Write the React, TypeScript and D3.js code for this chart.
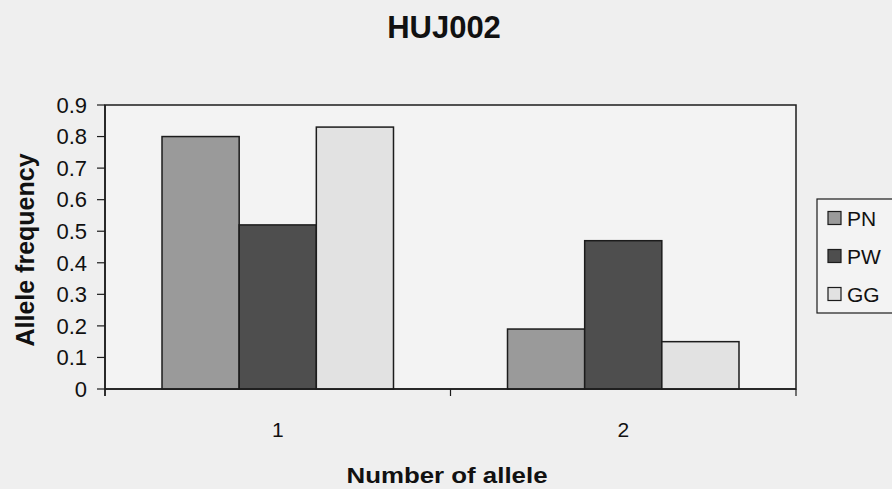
import React from "react";
import * as d3 from "d3";

const categories = ["1", "2"];
const seriesNames = ["PN", "PW", "GG"];
const PN = [0.8, 0.19];
const PW = [0.52, 0.47];
const GG = [0.83, 0.15];
const yTicks = [0, 0.1, 0.2, 0.3, 0.4, 0.5, 0.6, 0.7, 0.8, 0.9];
const seriesValues = [PN, PW, GG];
const colors = ["#9a9a9a", "#4e4e4e", "#e2e2e2"];

const W = 892, H = 489;
const L = 105, R = 796, T = 105, B = 389;
const font = "Arial, 'Liberation Sans', Helvetica, sans-serif";

export default function App() {
  const x0 = d3.scaleBand<string>().domain(categories).range([L, R]).paddingInner(0.33).paddingOuter(0.165);
  const x1 = d3.scaleBand<string>().domain(seriesNames).range([0, x0.bandwidth()]);
  const y = d3.scaleLinear().domain([0, 0.9]).range([B, T]);
  const fmt = (v: number) => (v === 0 ? "0" : d3.format(".1f")(v));
  const stroke = "#1c1c1c";
  return (
    <svg width={W} height={H} style={{ position: "absolute", left: 0, top: 0 }} fontFamily={font}>
      <rect x={0} y={0} width={W} height={H} fill="#efefef" />
      <text x={444} y={38} textAnchor="middle" fontSize={31} fontWeight="bold" fill="#111">HUJ002</text>
      <rect x={L} y={T} width={R - L} height={B - T} fill="#f3f3f3" stroke={stroke} strokeWidth={1.5} />
      {seriesValues.map((vals, si) =>
        categories.map((c, ci) => (
          <rect key={si + "-" + ci}
            x={(x0(c) as number) + (x1(seriesNames[si]) as number)}
            y={y(vals[ci])}
            width={x1.bandwidth()}
            height={B - y(vals[ci])}
            fill={colors[si]} stroke={stroke} strokeWidth={1.5} />
        ))
      )}
      <line x1={L} x2={L} y1={T} y2={B + 7} stroke={stroke} strokeWidth={1.5} />
      <line x1={L} x2={R} y1={B} y2={B} stroke={stroke} strokeWidth={1.5} />
      {yTicks.map((t) => (
        <g key={t}>
          <line x1={L - 8} x2={L} y1={y(t)} y2={y(t)} stroke={stroke} strokeWidth={1.2} />
          <text x={87} y={y(t) + 7.8} textAnchor="end" fontSize={22} fill="#111">{fmt(t)}</text>
        </g>
      ))}
      {[L, (L + R) / 2, R].map((xx, i) => (
        <line key={i} x1={xx} x2={xx} y1={B} y2={B + 7} stroke={stroke} strokeWidth={1.2} />
      ))}
      {categories.map((c) => (
        <text key={c} x={(x0(c) as number) + x0.bandwidth() / 2} y={437} textAnchor="middle" fontSize={21} fill="#111">{c}</text>
      ))}
      <text x={447} y={483} textAnchor="middle" fontSize={22} fontWeight="bold" fill="#111" textLength={201} lengthAdjust="spacingAndGlyphs">Number of allele</text>
      <text transform="translate(34,250) rotate(-90)" textAnchor="middle" fontSize={25} fontWeight="bold" fill="#111">Allele frequency</text>
      <rect x={817} y={199} width={90} height={114} fill="#f3f3f3" stroke={stroke} strokeWidth={1.2} />
      {seriesNames.map((s, i) => (
        <g key={s}>
          <rect x={828} y={218 + i * 38 - 6.5} width={13} height={13} fill={colors[i]} stroke={stroke} strokeWidth={1.2} />
          <text x={847} y={218 + i * 38 + 7.5} fontSize={21} fill="#111">{s}</text>
        </g>
      ))}
    </svg>
  );
}
